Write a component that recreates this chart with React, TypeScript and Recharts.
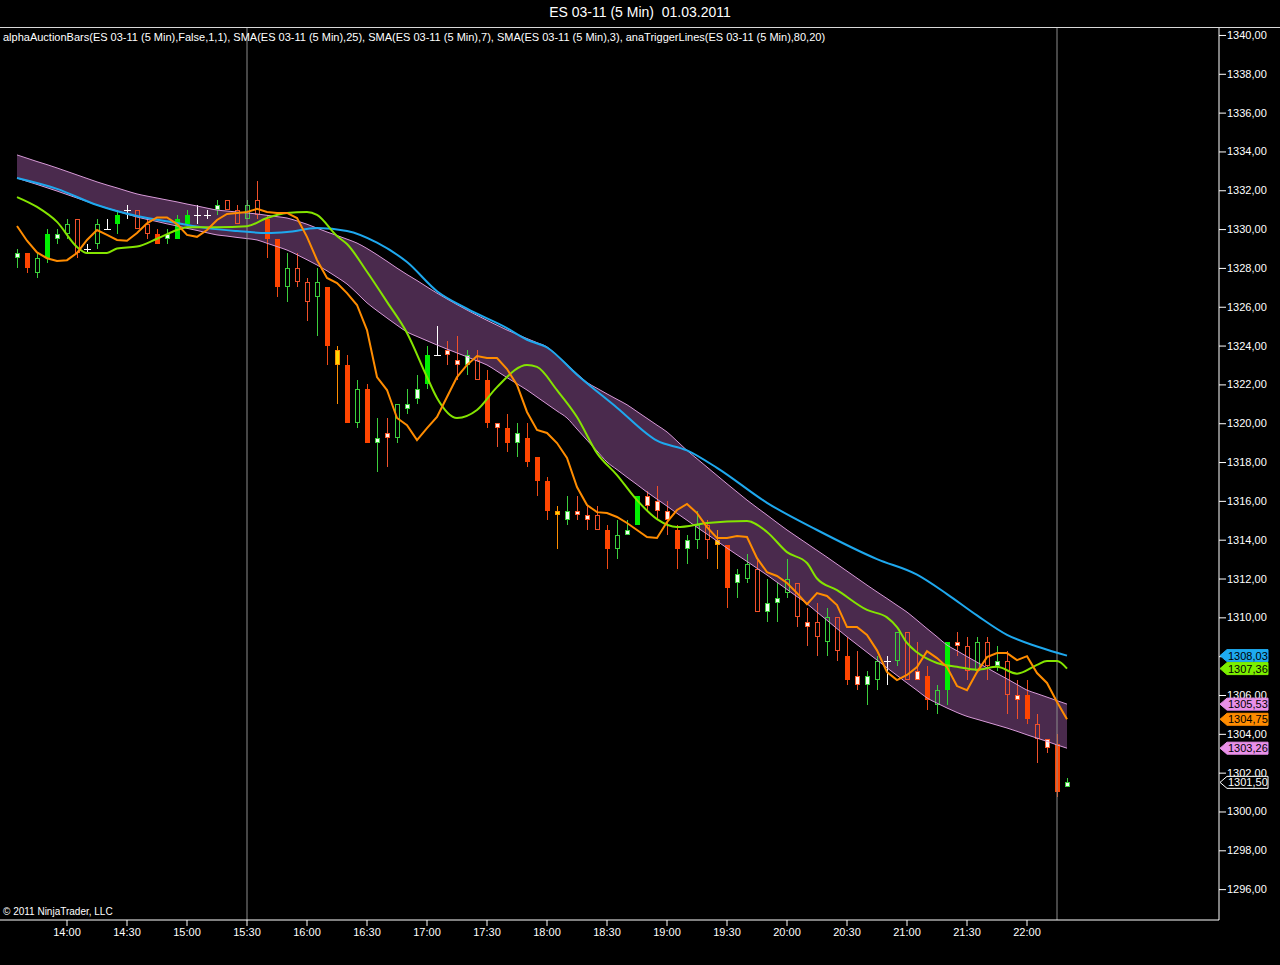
import React from "react";
import { ComposedChart, Bar, Line, Area, XAxis, YAxis, ReferenceLine } from "recharts";

const FONT = '"Liberation Sans", Arial, sans-serif';

// ES 03-11, 5 min bars from 13:35 to 22:20
const opens = [
  1328.5, 1328.75, 1327.75, 1328.5, 1329.5, 1329.75, 1330.5, 1329, 1329.25, 1330,
  1330.25, 1331, 1331, 1330.25, 1329.75, 1329.5, 1329.5, 1330.25, 1330.75, 1330.75,
  1331, 1331.5, 1331, 1330.5, 1331.5, 1330.5, 1329.5, 1327, 1328, 1327.25,
  1326.5, 1327, 1323.75, 1323, 1320, 1321.75, 1319, 1319.5, 1319.25, 1320.75,
  1321.25, 1322, 1323.5, 1323.75, 1323.25, 1323, 1323.25, 1322.25, 1320, 1319.75,
  1319, 1319.25, 1318.25, 1317, 1315.5, 1315, 1315.5, 1315.25, 1315.25, 1314.5,
  1313.5, 1314.25, 1314.75, 1316.25, 1316, 1315.5, 1314.5, 1313.5, 1314, 1314.75,
  1314, 1313.75, 1311.75, 1312, 1312.5, 1310.25, 1310.75, 1311.25, 1311.75, 1309.75,
  1309.75, 1308.75, 1310, 1308, 1307, 1306.5, 1306.75, 1307.75, 1307.75, 1309.25,
  1307.25, 1307, 1305.5, 1306.25, 1308.75, 1308.5, 1307.25, 1308.75, 1307.5, 1307.75,
  1306, 1306, 1304.5, 1303.75, 1303.5, 1301.25,
];

const highs = [
  1329, 1328.75, 1328.75, 1330, 1330, 1330.5, 1330.5, 1329.25, 1330.5, 1330.5,
  1331, 1331.25, 1331, 1330.5, 1330, 1330, 1330.75, 1331, 1331.25, 1331,
  1331.5, 1331.5, 1331.25, 1331.5, 1332.5, 1330.75, 1329.5, 1328.75, 1328.75, 1327.5,
  1328, 1327, 1324, 1323.5, 1322.25, 1322, 1320.25, 1320.25, 1321, 1321.75,
  1322.5, 1324, 1325, 1324.25, 1324.5, 1323.75, 1323.75, 1322.75, 1320, 1320.5,
  1320, 1320, 1318.25, 1317.25, 1315.75, 1316.25, 1316.25, 1315.75, 1315.75, 1314.75,
  1315, 1315, 1316.25, 1316.5, 1316.75, 1316, 1314.75, 1314.25, 1315.5, 1315,
  1314.5, 1313.75, 1312.5, 1313.25, 1313, 1312, 1311.75, 1313, 1311.75, 1310.5,
  1310.75, 1310.5, 1310, 1309, 1308.25, 1307.25, 1308, 1308, 1309.25, 1309.25,
  1308.75, 1307.5, 1306.5, 1308.75, 1309.25, 1309, 1309, 1309, 1308.5, 1308.25,
  1306.75, 1306.75, 1305, 1303.75, 1304, 1301.75,
];

const lows = [
  1328, 1327.75, 1327.5, 1328.25, 1329.25, 1329.5, 1328.5, 1328.75, 1329, 1330,
  1329.75, 1330.5, 1330, 1329.5, 1329.25, 1329.25, 1329.5, 1330.25, 1330.25, 1330.5,
  1330.75, 1331, 1330.25, 1330.5, 1330.5, 1328.5, 1326.5, 1326.25, 1327, 1325.25,
  1324.5, 1323, 1321, 1320, 1319.75, 1319, 1317.5, 1317.75, 1319, 1320.5,
  1321, 1321.75, 1323.5, 1323, 1322.25, 1322.5, 1322.25, 1319.75, 1318.75, 1318.5,
  1318.25, 1317.75, 1316.25, 1315, 1313.5, 1314.75, 1315, 1314.5, 1314.5, 1312.5,
  1313, 1314.25, 1314.75, 1315.5, 1315, 1314.25, 1312.5, 1312.75, 1313.5, 1313,
  1312.5, 1310.5, 1311, 1311.75, 1310.25, 1309.75, 1309.75, 1311, 1309.5, 1308.5,
  1308, 1308, 1307.75, 1306.5, 1306.25, 1305.5, 1306.25, 1306.5, 1307.5, 1306.75,
  1306.75, 1305.25, 1305, 1305.5, 1308, 1306.75, 1307.25, 1306.75, 1307.25, 1305,
  1304.75, 1304.5, 1302.5, 1303, 1300.75, 1301.25,
];

const closes = [
  1328.75, 1328, 1328.5, 1329.75, 1329.75, 1330.25, 1328.75, 1329, 1330.25, 1330,
  1330.75, 1331, 1330, 1329.75, 1329.25, 1329.75, 1330.5, 1330.75, 1330.75, 1330.75,
  1331.25, 1331, 1330.25, 1331.25, 1330.75, 1329.5, 1327, 1328, 1327.25, 1326.25,
  1327.25, 1324, 1323, 1320, 1321.75, 1319, 1319.25, 1319.25, 1321, 1321,
  1321.75, 1323.5, 1323.5, 1323.5, 1323, 1323.5, 1322.25, 1320, 1319.75, 1319,
  1319.5, 1318, 1317, 1315.5, 1315.25, 1315.5, 1315.25, 1315, 1314.5, 1313.5,
  1314.25, 1314.5, 1316.25, 1315.75, 1315.5, 1315, 1313.5, 1314, 1314.75, 1314,
  1313.75, 1311.5, 1312.25, 1312.75, 1310.25, 1310.75, 1311, 1312, 1310, 1309.5,
  1309, 1310, 1308.25, 1306.75, 1306.5, 1307, 1307.75, 1307.75, 1309.25, 1306.75,
  1306.75, 1305.75, 1306.25, 1308.75, 1308.5, 1307.25, 1308.75, 1307.5, 1307.75, 1306,
  1305.75, 1304.75, 1303.75, 1303.25, 1301, 1301.5,
];

// alphaAuctionBars signal per bar:
// U strong up, u up, w small up, D strong down, d down, x small down, Y warning, + doji
const auctionSignal = [
  "w", "D", "u", "U", "w", "u", "d", "+", "u", "+",
  "U", "+", "d", "d", "D", "w", "U", "U", "+", "+",
  "w", "d", "d", "u", "d", "D", "D", "u", "d", "d",
  "u", "D", "Y", "D", "u", "D", "w", "x", "u", "w",
  "w", "U", "+", "x", "x", "w", "d", "D", "x", "D",
  "w", "D", "D", "D", "Y", "w", "x", "x", "d", "D",
  "u", "w", "U", "x", "x", "x", "D", "w", "u", "d",
  "Y", "D", "w", "u", "d", "w", "w", "u", "d", "x",
  "d", "u", "d", "D", "x", "w", "u", "+", "u", "d",
  "x", "D", "u", "U", "x", "d", "u", "d", "w", "d",
  "x", "D", "d", "x", "D", "w",
];

const sma3 = [
  1330.16, 1329.4, 1328.8, 1328.5, 1328.36, 1328.4, 1328.77, 1329.44, 1329.95, 1329.7,
  1329.44, 1329.4, 1329.8, 1330.3, 1330.6, 1330.6, 1330.26, 1329.7, 1329.6, 1329.95,
  1330.47, 1330.78, 1330.83, 1330.88, 1331.04, 1330.88, 1330.83, 1330.83, 1330.57, 1329.6,
  1328.41, 1327.48, 1327.22, 1326.7, 1326.09, 1324.8, 1322.38, 1321.71, 1320.27, 1319.9,
  1319.13, 1319.75, 1320.32, 1321.35, 1322.38, 1323.0, 1323.46, 1323.36, 1323.36, 1322.79,
  1321.97, 1320.58, 1319.65, 1319.5, 1318.98, 1318.21, 1316.71, 1315.79, 1315.42, 1315.37,
  1315.17, 1314.86, 1314.5, 1314.14, 1314.09, 1314.91, 1315.53, 1315.84, 1315.37, 1314.65,
  1314.09, 1314.09, 1314.19, 1314.14, 1313.05, 1312.33, 1312.13, 1311.77, 1311.25, 1310.68,
  1311.25, 1311.1, 1310.63, 1309.5, 1309.5, 1309.09, 1308.3, 1307.18, 1306.77, 1307.03,
  1307.44, 1308.26, 1307.9, 1307.44, 1306.46, 1306.25, 1307.18, 1307.95, 1308.16, 1308.16,
  1307.8, 1308.0, 1307.13, 1306.62, 1305.64, 1304.75,
];

// [bar index, value]
const sma7Points: [number, number][] = [
  [0, 1331.65], [2, 1331.14], [4, 1330.37], [6, 1329.08], [7, 1328.77], [9, 1328.77],
  [10, 1329.0], [12, 1329.1], [14, 1329.5], [16, 1329.95], [17, 1330.1], [20, 1330.1],
  [23, 1330.15], [25, 1330.57], [27, 1330.83], [29, 1330.88], [30, 1330.73], [32, 1329.64],
  [33, 1329.23], [35, 1327.8], [37, 1326.25], [39, 1324.65], [41, 1322.38], [42, 1321.3],
  [44, 1320.27], [46, 1320.68], [48, 1321.86], [51, 1323.0], [52, 1322.9], [54, 1321.7],
  [56, 1320.32], [58, 1318.46], [60, 1317.33], [62, 1316.04], [64, 1315.06], [66, 1314.65],
  [69, 1314.86], [73, 1314.96], [75, 1314.4], [77, 1313.36], [79, 1312.8], [80, 1312.0],
  [82, 1311.4], [85, 1310.38], [87, 1310.0], [88, 1309.5], [89, 1308.68], [90, 1308.2],
  [92, 1307.65], [94, 1307.45], [96, 1307.3], [98, 1307.45], [100, 1307.1], [102, 1307.55],
  [103, 1307.75], [104, 1307.75], [105, 1307.36],
];

const sma25Points: [number, number][] = [
  [0, 1332.63], [4, 1332.07], [8, 1331.24], [12, 1330.67], [16, 1330.31], [19, 1330.05],
  [22, 1329.9], [25, 1329.8], [27, 1329.85], [30, 1330.05], [33, 1329.9], [36, 1329.3],
  [39, 1328.3], [42, 1326.8], [45, 1325.9], [49, 1324.9], [51, 1324.3], [53, 1323.9],
  [56, 1322.5], [60, 1320.8], [64, 1319.1], [67, 1318.6], [70, 1317.7], [75, 1315.9],
  [80, 1314.5], [86, 1313.0], [90, 1312.2], [93, 1311.2], [96, 1310.1], [99, 1309.1],
  [102, 1308.5], [105, 1308.03],
];

// anaTriggerLines band
const bandUpper = [
  1333.82, 1333.65, 1333.48, 1333.32, 1333.15, 1332.97, 1332.79, 1332.61, 1332.43, 1332.27,
  1332.12, 1331.96, 1331.81, 1331.7, 1331.6, 1331.5, 1331.4, 1331.29, 1331.19, 1331.08,
  1330.98, 1330.93, 1330.88, 1330.83, 1330.78, 1330.71, 1330.64, 1330.57, 1330.42, 1330.25,
  1330.05, 1329.85, 1329.67, 1329.48, 1329.28, 1329.0, 1328.68, 1328.34, 1327.99, 1327.66,
  1327.35, 1327.02, 1326.7, 1326.4, 1326.11, 1325.83, 1325.56, 1325.3, 1325.05, 1324.8,
  1324.58, 1324.36, 1324.15, 1323.93, 1323.5, 1323.02, 1322.55, 1322.1, 1321.8, 1321.51,
  1321.23, 1320.95, 1320.6, 1320.25, 1319.9, 1319.55, 1319.08, 1318.6, 1318.17, 1317.74,
  1317.31, 1316.88, 1316.46, 1316.04, 1315.65, 1315.27, 1314.88, 1314.5, 1314.15, 1313.8,
  1313.45, 1313.1, 1312.74, 1312.38, 1312.02, 1311.66, 1311.31, 1310.97, 1310.62, 1310.27,
  1309.85, 1309.42, 1309.0, 1308.57, 1308.28, 1307.98, 1307.69, 1307.4, 1307.11, 1306.83,
  1306.54, 1306.25, 1306.07, 1305.89, 1305.71, 1305.53,
];

const bandLower = [
  1332.63, 1332.46, 1332.3, 1332.13, 1331.96, 1331.78, 1331.6, 1331.42, 1331.24, 1331.08,
  1330.93, 1330.77, 1330.62, 1330.5, 1330.39, 1330.27, 1330.16, 1330.04, 1329.93, 1329.81,
  1329.7, 1329.64, 1329.57, 1329.51, 1329.44, 1329.27, 1329.1, 1328.92, 1328.68, 1328.42,
  1328.15, 1327.85, 1327.52, 1327.17, 1326.7, 1326.2, 1325.8, 1325.42, 1325.05, 1324.7,
  1324.47, 1324.25, 1324.03, 1323.82, 1323.62, 1323.42, 1323.21, 1323.0, 1322.68, 1322.35,
  1322.03, 1321.71, 1321.35, 1320.99, 1320.63, 1320.27, 1319.7, 1319.13, 1318.57, 1318.0,
  1317.61, 1317.22, 1316.84, 1316.45, 1316.09, 1315.73, 1315.36, 1315.0, 1314.64, 1314.29,
  1313.93, 1313.57, 1313.22, 1312.88, 1312.53, 1312.18, 1311.81, 1311.44, 1311.07, 1310.7,
  1310.27, 1309.85, 1309.42, 1309.0, 1308.6, 1308.2, 1307.8, 1307.4, 1307.01, 1306.62,
  1306.24, 1305.85, 1305.58, 1305.33, 1305.1, 1304.9, 1304.75, 1304.6, 1304.45, 1304.3,
  1304.13, 1303.95, 1303.78, 1303.61, 1303.43, 1303.26,
];

const priceTicks = [
  1296, 1298, 1300, 1302, 1304, 1306, 1308, 1310, 1312, 1314, 1316, 1318,
  1320, 1322, 1324, 1326, 1328, 1330, 1332, 1334, 1336, 1338, 1340,
];

const timeTicks = [
  "14:00", "14:30", "15:00", "15:30", "16:00", "16:30", "17:00", "17:30", "18:00",
  "18:30", "19:00", "19:30", "20:00", "20:30", "21:00", "21:30", "22:00",
];

const sessionBreaks = ["15:30", "22:15"];

const SLOTS = 120;
const FIRST_BAR_MIN = 13 * 60 + 35;
const slotTimes = Array.from({ length: SLOTS }, (_, i) => {
  const m = FIRST_BAR_MIN + 5 * i;
  return `${Math.floor(m / 60)}:${String(m % 60).padStart(2, "0")}`;
});

const sma7 = new Map(sma7Points);
const sma25 = new Map(sma25Points);

const rows = slotTimes.map((t, i) => ({
  t,
  o: opens[i],
  h: highs[i],
  l: lows[i],
  c: closes[i],
  sig: auctionSignal[i],
  sma3: sma3[i],
  sma7: sma7.get(i),
  sma25: sma25.get(i),
  bu: bandUpper[i],
  bl: bandLower[i],
}));

const last = opens.length - 1;
const priceTags = [
  { value: sma25Points[sma25Points.length - 1][1], fill: "#1eaaf0", border: "#1eaaf0", text: "#000" },
  { value: sma7Points[sma7Points.length - 1][1], fill: "#7cf000", border: "#7cf000", text: "#000" },
  { value: bandUpper[last], fill: "#e890e8", border: "#e890e8", text: "#000" },
  { value: sma3[last], fill: "#ff8c00", border: "#ff8c00", text: "#000" },
  { value: bandLower[last], fill: "#e890e8", border: "#e890e8", text: "#000" },
  { value: closes[last], fill: "#000", border: "#fff", text: "#fff" },
];

const SIGNAL_COLORS: Record<string, { body: string; edge: string; wick: string; hollow: boolean }> = {
  U: { body: "#00f000", edge: "#00f000", wick: "#2fd82f", hollow: false },
  u: { body: "none", edge: "#3ccf3c", wick: "#3ccf3c", hollow: true },
  w: { body: "#f4fff4", edge: "#3ccf3c", wick: "#3ccf3c", hollow: true },
  D: { body: "#ff4500", edge: "#ff4500", wick: "#f04a14", hollow: false },
  d: { body: "none", edge: "#f0502a", wick: "#f0502a", hollow: true },
  x: { body: "#fff4ee", edge: "#ff5a2a", wick: "#f0502a", hollow: true },
  Y: { body: "#ffd700", edge: "#ff8c00", wick: "#ff8c00", hollow: true },
  "+": { body: "#ffffff", edge: "#ffffff", wick: "#ffffff", hollow: false },
};

const fmt = (v: number) => v.toFixed(2).replace(".", ",");

function Candle(props: any) {
  const { x, y, width, height, payload } = props;
  if (payload == null || payload.h == null) return null;
  const { o, h, l, c, sig } = payload;
  const col = SIGNAL_COLORS[sig];
  const span = h - l;
  const py = (p: number) => y + ((h - p) / span) * height;
  const cx = Math.round(x + width / 2);
  const wx = cx + 0.5;

  if (sig === "+") {
    const yc = Math.round(py(o)) + 0.5;
    return (
      <g shapeRendering="crispEdges">
        <line x1={wx} x2={wx} y1={py(h)} y2={py(l)} stroke={col.wick} />
        <line x1={cx - 3} x2={cx + 4} y1={yc} y2={yc} stroke={col.wick} />
      </g>
    );
  }

  const top = Math.round(py(Math.max(o, c)));
  const bot = Math.round(py(Math.min(o, c)));
  const bh = Math.max(bot - top, 2);
  return (
    <g shapeRendering="crispEdges">
      <line x1={wx} x2={wx} y1={py(h)} y2={top} stroke={col.wick} />
      <line x1={wx} x2={wx} y1={top + bh} y2={py(l)} stroke={col.wick} />
      {col.hollow ? (
        <rect x={cx - 1.5} y={top + 0.5} width={4} height={bh - 1} fill={col.body} stroke={col.edge} strokeWidth={1} />
      ) : (
        <rect x={cx - 2} y={top} width={5} height={bh} fill={col.body} />
      )}
    </g>
  );
}

function PriceTick(props: any) {
  const { x, y, payload } = props;
  const value = payload.value as number;
  const tag = priceTags.find((t) => t.value === value);
  if (tag) {
    const tip = x - 7;
    return (
      <g>
        <polygon
          points={`${tip},${y} ${tip + 7},${y - 6} ${x + 41},${y - 6} ${x + 41},${y + 6} ${tip + 7},${y + 6}`}
          fill={tag.fill}
          stroke={tag.border}
          strokeWidth={1}
        />
        <text x={x + 1} y={y + 4} fill={tag.text} fontSize={11} fontFamily={FONT}>
          {fmt(value)}
        </text>
      </g>
    );
  }
  return (
    <g>
      <line x1={x - 8} x2={x - 1} y1={y + 0.5} y2={y + 0.5} stroke="#ffffff" />
      <text x={x} y={y + 4} fill="#ffffff" fontSize={11} fontFamily={FONT}>
        {fmt(value)}
      </text>
    </g>
  );
}

export default function App() {
  return (
    <div style={{ position: "relative", width: 1280, height: 965, background: "#000", overflow: "hidden" }}>
      <style>{"body{margin:0;background:#000}"}</style>
      <ComposedChart
        width={1280}
        height={965}
        data={rows}
        margin={{ top: 27, right: 0, bottom: 0, left: 0 }}
      >
        <XAxis
          dataKey="t"
          ticks={timeTicks}
          interval={0}
          height={45}
          padding={{ left: 12, right: 7 }}
          axisLine={{ stroke: "#ffffff" }}
          tickLine={{ stroke: "#ffffff" }}
          tick={{ fill: "#ffffff", fontSize: 11, fontFamily: FONT }}
        />
        <YAxis
          orientation="right"
          width={61}
          type="number"
          domain={[1294.41, 1340.41]}
          allowDataOverflow
          ticks={[...priceTicks, ...priceTags.map((t) => t.value)]}
          interval={0}
          axisLine={{ stroke: "#ffffff" }}
          tickLine={false}
          tick={<PriceTick />}
        />
        <Area
          dataKey={(d: any) => (d.bu == null ? null : [d.bl, d.bu])}
          type="monotone"
          stroke="none"
          fill="#4a2a4d"
          fillOpacity={1}
          isAnimationActive={false}
        />
        <Line dataKey="bu" type="monotone" stroke="#d89ad8" strokeWidth={1} dot={false} isAnimationActive={false} />
        <Line dataKey="bl" type="monotone" stroke="#d89ad8" strokeWidth={1} dot={false} isAnimationActive={false} />
        {sessionBreaks.map((t) => (
          <ReferenceLine key={t} x={t} stroke="#8c8c8c" strokeWidth={1} />
        ))}
        <Bar
          dataKey={(d: any) => (d.h == null ? null : [d.l, d.h])}
          barSize={6}
          shape={(p: any) => <Candle {...p} />}
          isAnimationActive={false}
        />
        <Line dataKey="sma25" type="monotone" stroke="#1ea8ee" strokeWidth={2} dot={false} connectNulls isAnimationActive={false} />
        <Line dataKey="sma7" type="monotone" stroke="#84e400" strokeWidth={2} dot={false} connectNulls isAnimationActive={false} />
        <Line dataKey="sma3" type="linear" stroke="#ff8c00" strokeWidth={2} dot={false} isAnimationActive={false} />
      </ComposedChart>

      <div style={{ position: "absolute", top: 27, left: 0, width: 1280, height: 1, background: "#d8d8d8" }} />
      <div
        style={{
          position: "absolute",
          top: 4,
          left: 0,
          width: 1280,
          textAlign: "center",
          color: "#ffffff",
          fontFamily: FONT,
          fontSize: 14,
          whiteSpace: "pre",
        }}
      >
        {"ES 03-11 (5 Min)  01.03.2011"}
      </div>
      <div
        style={{
          position: "absolute",
          top: 31,
          left: 3,
          color: "#ffffff",
          fontFamily: FONT,
          fontSize: 11,
          lineHeight: "13px",
          whiteSpace: "pre",
        }}
      >
        alphaAuctionBars(ES 03-11 (5 Min),False,1,1), SMA(ES 03-11 (5 Min),25), SMA(ES 03-11 (5 Min),7), SMA(ES 03-11 (5 Min),3), anaTriggerLines(ES 03-11 (5 Min),80,20)
      </div>
      <div
        style={{
          position: "absolute",
          top: 906,
          left: 3,
          color: "#ffffff",
          fontFamily: FONT,
          fontSize: 10,
          lineHeight: "12px",
          whiteSpace: "pre",
        }}
      >
        © 2011 NinjaTrader, LLC
      </div>
    </div>
  );
}
